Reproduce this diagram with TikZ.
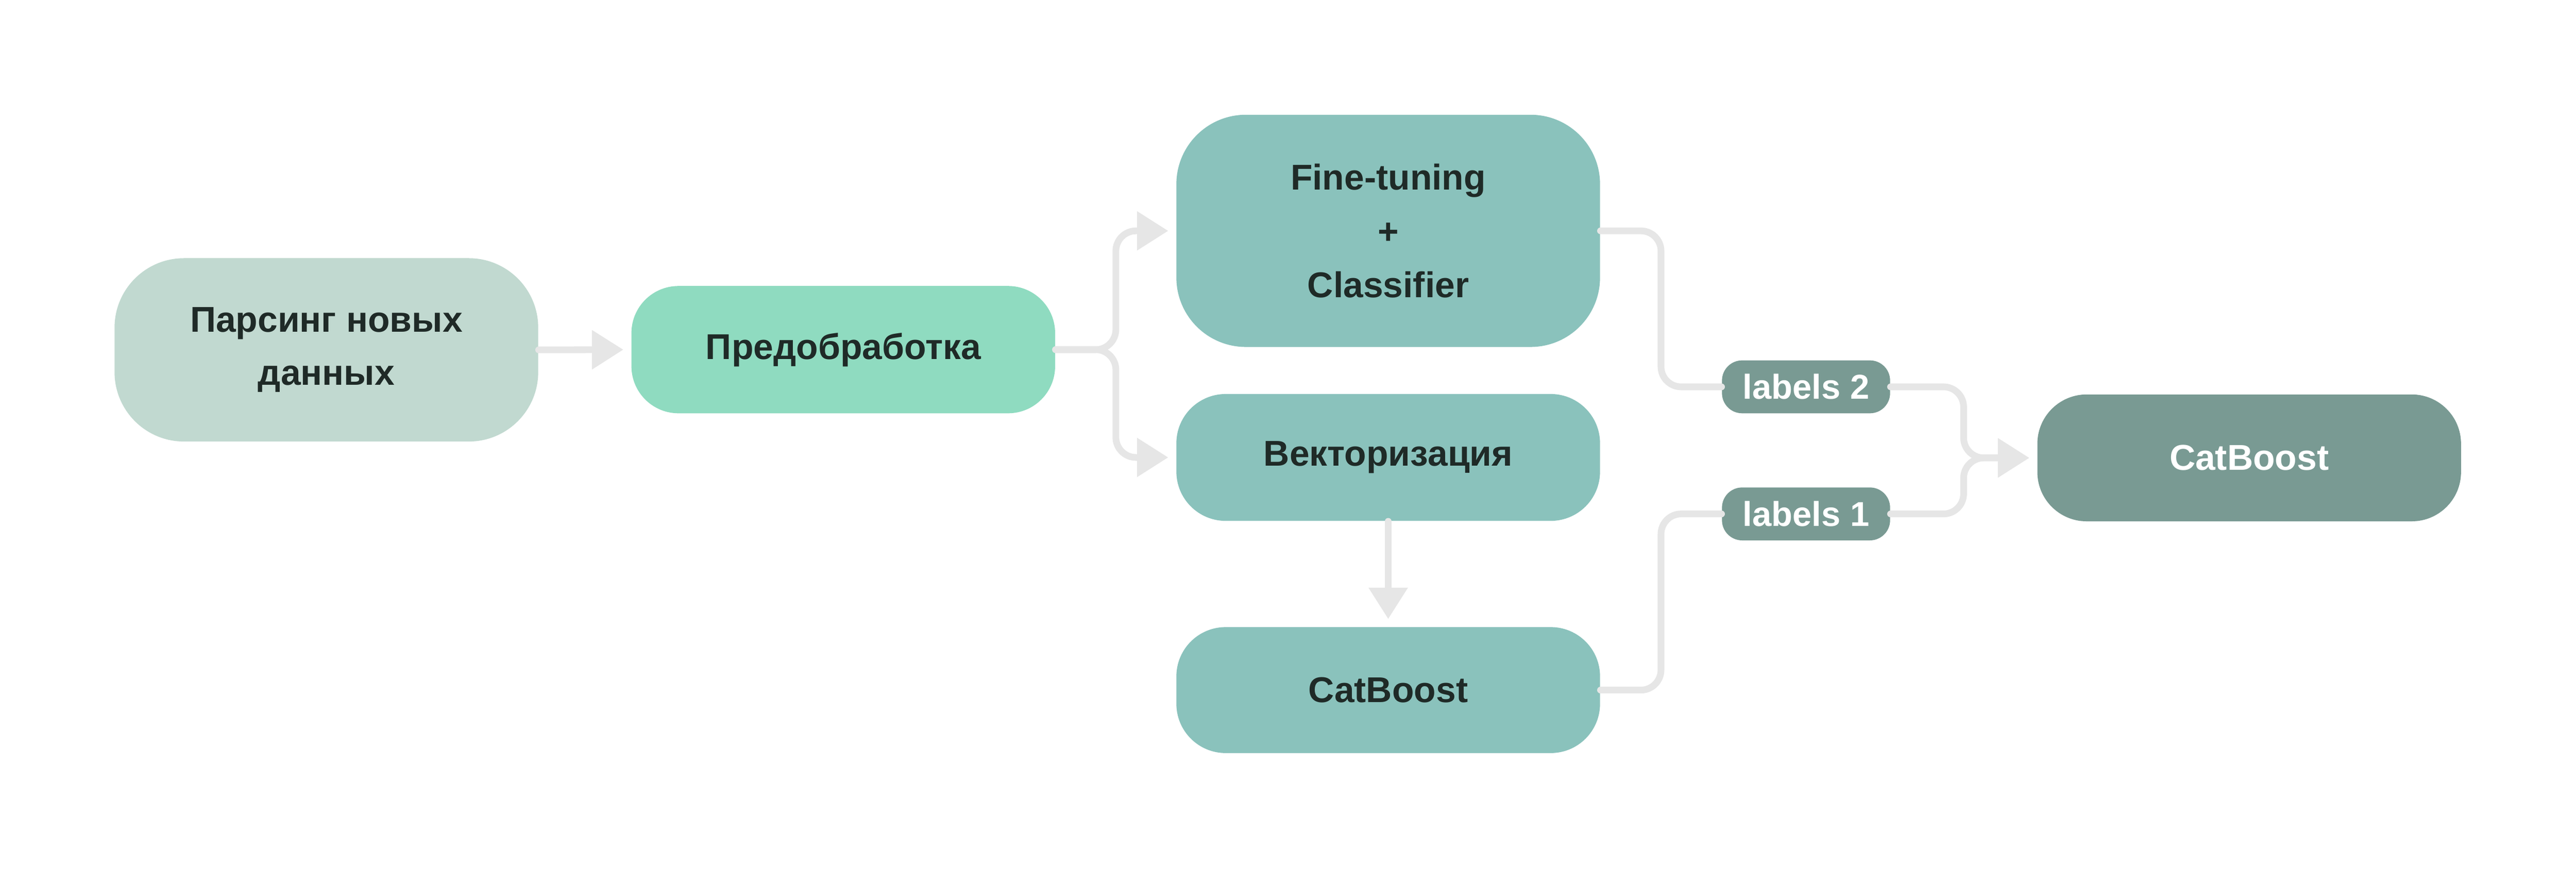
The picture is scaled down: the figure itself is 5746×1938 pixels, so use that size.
\documentclass[tikz,border=0pt]{standalone}
\usepackage{fontspec}
\setmainfont{Liberation Sans}
\usetikzlibrary{arrows.meta}
\definecolor{cParse}{HTML}{C1D9D0}
\definecolor{cPre}{HTML}{8FDBC0}
\definecolor{cTeal}{HTML}{8AC2BC}
\definecolor{cDark}{HTML}{799A93}
\definecolor{cLine}{HTML}{E6E6E6}
\definecolor{cText}{HTML}{1F2A27}
\begin{document}
\begin{tikzpicture}[x=0.2pt,y=-0.2pt,
  box/.style={rectangle, inner sep=0pt, align=center, text=cText,
    font=\fontsize{16pt}{24pt}\selectfont\bfseries},
  bigbox/.style={box, minimum width=189pt},
  labbox/.style={box, fill=cDark, text=white, minimum width=75pt, minimum height=23.6pt, rounded corners=9pt,
    font=\fontsize{15.4pt}{20pt}\selectfont\bfseries},
  conn/.style={draw=cLine, line width=3pt, rounded corners=9pt, line cap=round},
  arr/.style={conn, -{Triangle[length=14pt,width=16.8pt]}, shorten >=3.4pt},
]
\useasboundingbox (0,0) rectangle (5746,1938);
\node[bigbox, fill=cParse, minimum height=81.8pt, rounded corners=31pt] (n1) at (728,780.5) {Парсинг новых\\[-0.4pt]данных};
\node[bigbox, fill=cPre, minimum height=56.8pt, rounded corners=21pt] (n2) at (1881,780) {Предобработка};
\node[bigbox, fill=cTeal, minimum height=103.6pt, rounded corners=31pt] (ft) at (3096.5,515) {Fine-tuning\\+\\Classifier};
\node[bigbox, fill=cTeal, minimum height=56.6pt, rounded corners=22pt] (vec) at (3096.5,1020.5) {Векторизация};
\node[bigbox, fill=cTeal, minimum height=56.2pt, rounded corners=22pt] (cb1) at (3096.5,1539.5) {CatBoost};
\node[labbox] (lab2) at (4028.5,863) {labels 2};
\node[labbox] (lab1) at (4028.5,1146.5) {labels 1};
\node[bigbox, fill=cDark, text=white, minimum height=56.6pt, rounded corners=22pt] (cb2) at (5017,1021.5) {CatBoost};
\coordinate (j0) at (2489,0);
\coordinate (j1) at (3705,0);
\coordinate (j2) at (4380,0);
\draw[arr] (n1.east) -- (n2.west);
\draw[arr] (n2.east) -| (j0 |- ft.west) -- (ft.west);
\draw[arr] (n2.east) -| (j0 |- vec.west) -- (vec.west);
\draw[arr] (vec.south) -- (cb1.north);
\draw[conn] (ft.east) -| (j1 |- lab2.west) -- (lab2.west);
\draw[conn] (cb1.east) -| (j1 |- lab1.west) -- (lab1.west);
\draw[arr] (lab2.east) -| (j2 |- cb2.west) -- (cb2.west);
\draw[arr] (lab1.east) -| (j2 |- cb2.west) -- (cb2.west);
\end{tikzpicture}
\end{document}
